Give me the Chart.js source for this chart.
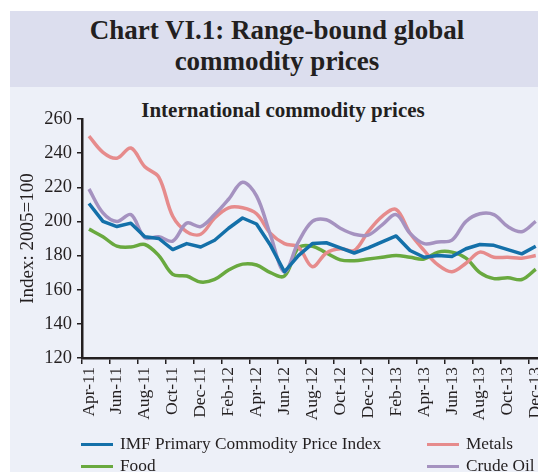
<!DOCTYPE html>
<html>
<head>
<meta charset="utf-8">
<script src="https://cdn.jsdelivr.net/npm/chart.js@4.4.1/dist/chart.umd.min.js"></script>
<style>
  html, body { margin: 0; padding: 0; background: #ffffff; overflow: hidden; width: 538px; height: 472px; }
  #wrap { position: relative; width: 538px; height: 472px; overflow: hidden; }
  #titlebox { position: absolute; left: 10px; top: 11px; width: 540px; height: 76px; background: #dcdeee; }
  #panel { position: absolute; left: 10px; top: 87px; width: 540px; height: 400px; background: #edf0f8; }
  #title { position: absolute; left: 10px; width: 534px; top: 15px; text-align: center;
    font-family: "Liberation Serif", "Times New Roman", serif; font-weight: bold; font-size: 27px; line-height: 31px; color: #231f20; }
  #subtitle { position: absolute; left: 83px; width: 400px; top: 98px; text-align: center;
    font-family: "Liberation Serif", "Times New Roman", serif; font-weight: bold; font-size: 21px; line-height: 24px; color: #231f20; }
  canvas#c { position: absolute; left: 0; top: 0; }
  .leg { position: absolute; font-family: "Liberation Serif", "Times New Roman", serif; font-size: 17.3px; color: #231f20; line-height: 20px; white-space: nowrap; }
  .leg span.sw { position: absolute; left: 0; top: 9px; width: 32px; height: 3px; }
  .leg span.tx { position: absolute; left: 39px; top: 0; }
</style>
</head>
<body>
<div id="wrap">
  <div id="titlebox"></div>
  <div id="panel"></div>
  <div id="title">Chart VI.1: Range-bound global<br>commodity prices</div>
  <div id="subtitle">International commodity prices</div>
  <canvas id="c" width="560" height="472"></canvas>
  <div id="legend"></div>
</div>
<script>
// Categories (monthly, Apr-11 .. Dec-13)
const months = ["Apr-11","May-11","Jun-11","Jul-11","Aug-11","Sep-11","Oct-11","Nov-11","Dec-11",
  "Jan-12","Feb-12","Mar-12","Apr-12","May-12","Jun-12","Jul-12","Aug-12","Sep-12","Oct-12","Nov-12","Dec-12",
  "Jan-13","Feb-13","Mar-13","Apr-13","May-13","Jun-13","Jul-13","Aug-13","Sep-13","Oct-13","Nov-13","Dec-13"];

// Series values (Index: 2005=100)
const imfIndex = [210.5,200,197,199,191,190,183.5,187,185,189,196,202,198.5,186,170.5,180,187,187.5,184.5,181.5,184.5,188,191.5,183,179,180,179.5,184,186.5,186,183.5,181,185.5];
const food     = [195.5,191,185.5,185,186.5,180,169,168,164.5,166,171.5,175,174.5,170,168,184.5,185.5,181.5,177.5,177,178,179,180,179,178,182,182,178.5,170,166.5,167,166,172];
const metals   = [250,240.5,237,243,232,226,203,194,192.5,202,208,208,204.5,193,187,185,173.5,181.5,184,183,194,203,207,193,183,174.5,170.5,175.5,182,179,179,178.5,180];
const crudeOil = [219,205,200,204,190.5,191,188.5,199,197,204,213,223,215,192,170.5,188,200,201,196,192.5,192,198,204,193,187,188,189,200,204.5,204,197,194,200];

// Y-axis tick values
const yTicks = [120,140,160,180,200,220,240,260];

const seriesNames = ["IMF Primary Commodity Price Index","Food","Metals","Crude Oil"];
const seriesColors = ["#1470a9","#69a93f","#e68b8c","#a592c0"];

const ink = "#231f20";
const serif = "'Liberation Serif', 'Times New Roman', serif";

const ds = [imfIndex, food, metals, crudeOil].map((d, k) => ({
  label: seriesNames[k],
  data: d,
  borderColor: seriesColors[k],
  backgroundColor: seriesColors[k],
  borderWidth: 3.5,
  pointRadius: 0,
  tension: k === 0 ? 0 : 0.35,
  fill: false,
  borderJoinStyle: 'round',
  borderCapStyle: 'butt'
}));
ds[0].order = 1; ds[1].order = 4; ds[2].order = 3; ds[3].order = 2;

new Chart(document.getElementById('c'), {
  type: 'line',
  data: { labels: months, datasets: ds },
  options: {
    responsive: false,
    animation: false,
    events: [],
    layout: { padding: { top: 119, left: 0, right: 17, bottom: 0 } },
    plugins: { legend: { display: false }, title: { display: false }, tooltip: { enabled: false } },
    scales: {
      x: {
        type: 'category',
        offset: true,
        afterFit: s => { s.height = 114; },
        grid: {
          offset: true,
          drawOnChartArea: false,
          drawTicks: true,
          tickLength: 6,
          lineWidth: 1.5,
          color: c => (c.index % 2 === 0 ? ink : 'rgba(0,0,0,0)')
        },
        border: { display: true, color: ink, width: 2.5 },
        ticks: {
          autoSkip: false,
          maxRotation: 90,
          minRotation: 90,
          padding: 3,
          color: ink,
          font: { family: serif, size: 17.5 },
          callback: (v, i) => (i % 2 === 0 ? months[i] : '')
        }
      },
      y: {
        min: 120,
        max: 260,
        afterFit: s => { s.width = 82; },
        afterBuildTicks: s => { s.ticks = yTicks.map(v => ({ value: v })); },
        grid: { drawOnChartArea: false, drawTicks: true, tickLength: 5, color: ink, lineWidth: 1.5 },
        border: { display: true, color: ink, width: 2.5 },
        ticks: { padding: 5, color: ink, font: { family: serif, size: 18.5 } },
        title: {
          display: true,
          text: 'Index: 2005=100',
          color: ink,
          font: { family: serif, size: 19 },
          padding: { top: 17, bottom: 0 }
        }
      }
    }
  }
});

// HTML legend (two columns)
const legendPos = [
  { x: 81, y: 434 },  // IMF
  { x: 81, y: 456 },  // Food
  { x: 427, y: 434 }, // Metals
  { x: 427, y: 456 }  // Crude Oil
];
const legend = document.getElementById('legend');
seriesNames.forEach((n, k) => {
  const d = document.createElement('div');
  d.className = 'leg';
  d.style.left = legendPos[k].x + 'px';
  d.style.top = legendPos[k].y + 'px';
  d.innerHTML = '<span class="sw" style="background:' + seriesColors[k] + '"></span><span class="tx"></span>';
  d.querySelector('.tx').textContent = n;
  legend.appendChild(d);
});
</script>
</body>
</html>
